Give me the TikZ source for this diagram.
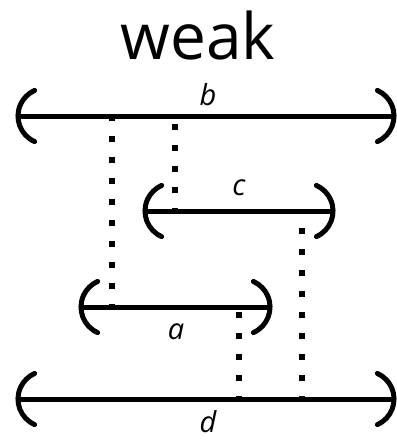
\documentclass[tikz,border=0pt]{standalone}
\usepackage{fontspec}
\setmainfont{Open Sans}
\usetikzlibrary{positioning}

\begin{document}
\begin{tikzpicture}[x=1pt,y=-1pt,
	bar/.style={line width=5pt},
	brk/.style={line width=5pt,line cap=round},
	dots/.style={line width=6pt,dash pattern=on 6pt off 15pt,dash phase=3pt},
	lbl/.style={font=\fontsize{29}{29}\selectfont\itshape,inner sep=0pt,anchor=base}]
	\useasboundingbox (0,0) rectangle (396,441);

	\node[font=\fontsize{64}{64}\selectfont,anchor=base] (title) at (198,60) {weak};

	% interval ends
	\coordinate (bL) at (18,116);  \coordinate (bR) at (394,116);
	\coordinate (cL) at (145,211); \coordinate (cR) at (333,211);
	\coordinate (aL) at (81,307);  \coordinate (aR) at (270,307);
	\coordinate (dL) at (18,399);  \coordinate (dR) at (394,399);

	\foreach \n in {a,b,c,d} {
		\draw[bar] (\n L) -- (\n R);
		\draw[brk] (\n L) ++(16.6,25.6) arc[start angle=114,end angle=246,radius=28];
		\draw[brk] (\n R) ++(-16.6,25.6) arc[start angle=66,end angle=-66,radius=28];
	}

	\node[lbl] (lb) at (208,106) {b};
	\node[lbl] (lc) at (239,195) {c};
	\node[lbl] (la) at (176,339) {a};
	\node[lbl] (ld) at (208,432) {d};

	% meeting points
	\coordinate (b1) at (112,116); \coordinate (b2) at (175,116);
	\coordinate (c2) at (175,211); \coordinate (c3) at (302,211);
	\coordinate (a1) at (112,307); \coordinate (a4) at (239,307);
	\coordinate (d4) at (239,399); \coordinate (d3) at (302,399);

	\draw[dots] (a1) -- (b1);
	\draw[dots] (c2) -- (b2);
	\draw[dots] (d3) -- (c3);
	\draw[dots] (d4) -- (a4);
\end{tikzpicture}
\end{document}
